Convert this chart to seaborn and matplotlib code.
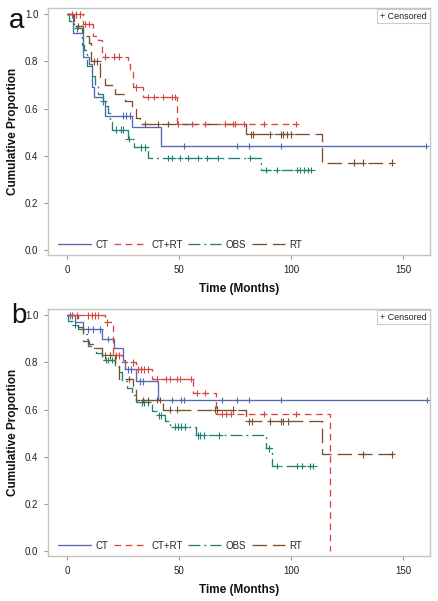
import numpy as np
import pandas as pd
import matplotlib
matplotlib.use("Agg")
import matplotlib.pyplot as plt
import seaborn as sns

# ---------------- data ----------------
groups = ["CT", "CT+RT", "OBS", "RT"]

# Panel a
a_ct_t = [0, 2.7, 7, 10, 11, 12, 16, 17, 29, 42]
a_ct_s = [1.0, 0.92, 0.82, 0.79, 0.69, 0.65, 0.63, 0.57, 0.52, 0.44]
a_ct_c = [25, 26.5, 28, 52, 76, 81, 95.5, 160]

a_ctrt_t = [0, 7, 11.6, 14, 15.5, 27, 28, 29.5, 34, 49]
a_ctrt_s = [1.0, 0.96, 0.91, 0.89, 0.82, 0.79, 0.76, 0.69, 0.65, 0.535]
a_ctrt_c = [2, 4, 6, 8, 10, 17, 21, 23, 31, 36, 39, 43, 47, 48, 49.6, 55.8,
            61.6, 70.5, 74, 74.8, 79, 88, 102]

a_obs_t = [0, 1, 3, 6.7, 7.5, 8.9, 11, 12.5, 14, 16, 17.6, 18.2, 19, 20, 27,
           30, 36, 86.6]
a_obs_s = [1.0, 0.97, 0.94, 0.87, 0.85, 0.78, 0.74, 0.70, 0.66, 0.63, 0.61,
           0.58, 0.55, 0.51, 0.47, 0.435, 0.39, 0.34]
a_obs_c = [4.5, 16, 22, 24, 25, 27.5, 33, 35, 45, 47, 50.5, 54, 58.5, 62.5,
           67.5, 81.7, 89, 93.6, 102.7, 104, 105.8, 107.6, 109]

a_rt_t = [0, 3, 7, 9.6, 10.5, 14.7, 17, 21.4, 26, 29, 31, 32.6, 80, 114]
a_rt_s = [1.0, 0.95, 0.91, 0.88, 0.80, 0.73, 0.70, 0.66, 0.63, 0.60, 0.56,
          0.535, 0.49, 0.37]
a_rt_c = [5, 12, 13.5, 35, 40.6, 45, 82, 83, 90.6, 95.5, 96.5, 98, 100, 128,
          132, 145]

# Panel b
b_ct_t = [0, 3.6, 7, 15.6, 21, 25, 26, 31, 40.6]
b_ct_s = [1.0, 0.97, 0.94, 0.90, 0.86, 0.81, 0.77, 0.72, 0.64]
b_ct_c = [1.3, 9.4, 11.6, 14.7, 18.5, 27, 28.6, 32.6, 34, 47, 51, 52, 69, 76,
          81, 95.5, 160.7]

b_ctrt_t = [0, 17, 20.5, 24.5, 31, 38, 56, 66.5, 117.5]
b_ctrt_s = [1.0, 0.97, 0.83, 0.80, 0.77, 0.73, 0.67, 0.58, 0.0]
b_ctrt_c = [2.2, 4.5, 9.4, 11, 12.5, 14, 18, 22, 23, 29.5, 31.5, 33, 34.5, 36,
            40, 44, 46, 49, 50.5, 55.4, 58, 61.6, 69, 71, 73, 88, 102]

b_obs_t = [0, 0.5, 2.7, 4.9, 7, 8.9, 9.5, 11, 13, 15.5, 21.4, 23, 24.5, 26.6,
           29, 31, 38, 40.6, 43.8, 46, 57.5, 89, 91.5]
b_obs_s = [1.0, 0.975, 0.96, 0.94, 0.92, 0.90, 0.87, 0.86, 0.84, 0.81, 0.78,
           0.76, 0.72, 0.69, 0.66, 0.63, 0.595, 0.575, 0.553, 0.527, 0.49,
           0.435, 0.36]
b_obs_c = [3.5, 17.5, 18.5, 20, 33.5, 34.5, 36, 41, 42, 48, 49.5, 51, 52.5,
           58.5, 59.5, 61, 68, 90, 93.6, 102.6, 105, 108.5, 110]

b_rt_t = [0, 4.9, 7, 10, 13, 15.4, 21.4, 23, 29.6, 31, 43, 80, 114]
b_rt_s = [1.0, 0.95, 0.89, 0.88, 0.86, 0.83, 0.79, 0.73, 0.70, 0.64, 0.60,
          0.55, 0.41]
b_rt_c = [17, 19, 27.5, 34, 36, 40, 41.5, 46, 49, 66, 67, 74, 81, 82.5, 90.6,
          95.5, 96.5, 98.7, 132, 145]

panels = {
    "a": {"CT": (a_ct_t, a_ct_s, a_ct_c), "CT+RT": (a_ctrt_t, a_ctrt_s, a_ctrt_c),
          "OBS": (a_obs_t, a_obs_s, a_obs_c), "RT": (a_rt_t, a_rt_s, a_rt_c)},
    "b": {"CT": (b_ct_t, b_ct_s, b_ct_c), "CT+RT": (b_ctrt_t, b_ctrt_s, b_ctrt_c),
          "OBS": (b_obs_t, b_obs_s, b_obs_c), "RT": (b_rt_t, b_rt_s, b_rt_c)},
}

x_ticks = [0, 50, 100, 150]
y_ticks = [0.0, 0.2, 0.4, 0.6, 0.8, 1.0]

# ---------------- style ----------------
palette = {"CT": "#5568B2", "CT+RT": "#D4483F", "OBS": "#1F8272", "RT": "#7B4F2C"}
dashes = {"CT": "", "CT+RT": (5, 3.5), "OBS": (9, 3, 1.5, 3), "RT": (11, 4.5)}

sns.set_theme(style="white")
plt.rcParams["font.family"] = ["Liberation Sans", "DejaVu Sans"]

fig = plt.figure(figsize=(4.38, 6.01), dpi=100)
ax_pos = {"a": [0.1096, 0.5757, 0.8721, 0.4110],
          "b": [0.1096, 0.0749, 0.8721, 0.4110]}
letter_pos = {"a": (0.038, 0.965), "b": (0.042, 0.474)}

for key, data in panels.items():
    ax = fig.add_axes(ax_pos[key])
    rows, crows = [], []
    for g in groups:
        t, s, c = data[g]
        end = max(t[-1], max(c))
        tt = list(t) + ([end] if end > t[-1] else [])
        ss = list(s) + ([s[-1]] if end > t[-1] else [])
        for ti, si in zip(tt, ss):
            rows.append({"time": ti, "surv": si, "group": g})
        tarr = np.array(t)
        sarr = np.array(s)
        for ci in c:
            idx = np.searchsorted(tarr, ci, side="right") - 1
            crows.append({"time": ci, "surv": sarr[idx], "group": g})
    df = pd.DataFrame(rows)
    cdf = pd.DataFrame(crows)

    sns.lineplot(data=df, x="time", y="surv", hue="group", style="group",
                 hue_order=groups, style_order=groups, palette=palette,
                 dashes=dashes, drawstyle="steps-post", estimator=None,
                 sort=False, linewidth=0.95, ax=ax)
    sns.scatterplot(data=cdf, x="time", y="surv", hue="group", hue_order=groups,
                    palette=palette, marker="+", s=22, linewidth=0.8,
                    legend=False, ax=ax, zorder=3)

    ax.set_xlim(-8.5, 162)
    ax.set_ylim(-0.022, 1.027)
    ax.set_xticks(x_ticks)
    ax.set_yticks(y_ticks)
    ax.set_xticklabels([str(v) for v in x_ticks])
    ax.set_yticklabels([f"{v:.1f}" for v in y_ticks])
    ax.tick_params(axis="both", which="major", labelsize=7, length=3,
                   width=0.8, color="#9a9a9a", direction="out", pad=4,
                   labelcolor="#222222", bottom=True, left=True)
    for sp in ax.spines.values():
        sp.set_color("#c4c4c4")
        sp.set_linewidth(1.0)
    ax.set_xlabel("Time (Months)", fontsize=8.5, fontweight="bold",
                  color="#111111", labelpad=6)
    ax.set_ylabel("Cumulative Proportion", fontsize=8.5, fontweight="bold",
                  color="#111111")
    ax.yaxis.set_label_coords(-0.075, 0.5)
    ax.grid(False)

    sns.move_legend(ax, "lower left", bbox_to_anchor=(0.012, -0.002), ncol=4,
                    frameon=False, title=None, fontsize=7, handlelength=3.4,
                    columnspacing=0.55, handletextpad=0.45, borderaxespad=0.2)

    ax.text(0.992, 0.985, "+ Censored", transform=ax.transAxes, fontsize=6.5,
            ha="right", va="top", color="#222222",
            bbox=dict(boxstyle="square,pad=0.3", fc="white", ec="#cccccc",
                      lw=0.8))
    fig.text(letter_pos[key][0], letter_pos[key][1], key, fontsize=20,
             ha="center", va="center", color="#111111")

fig.savefig("out.png", dpi=100, facecolor="white")
